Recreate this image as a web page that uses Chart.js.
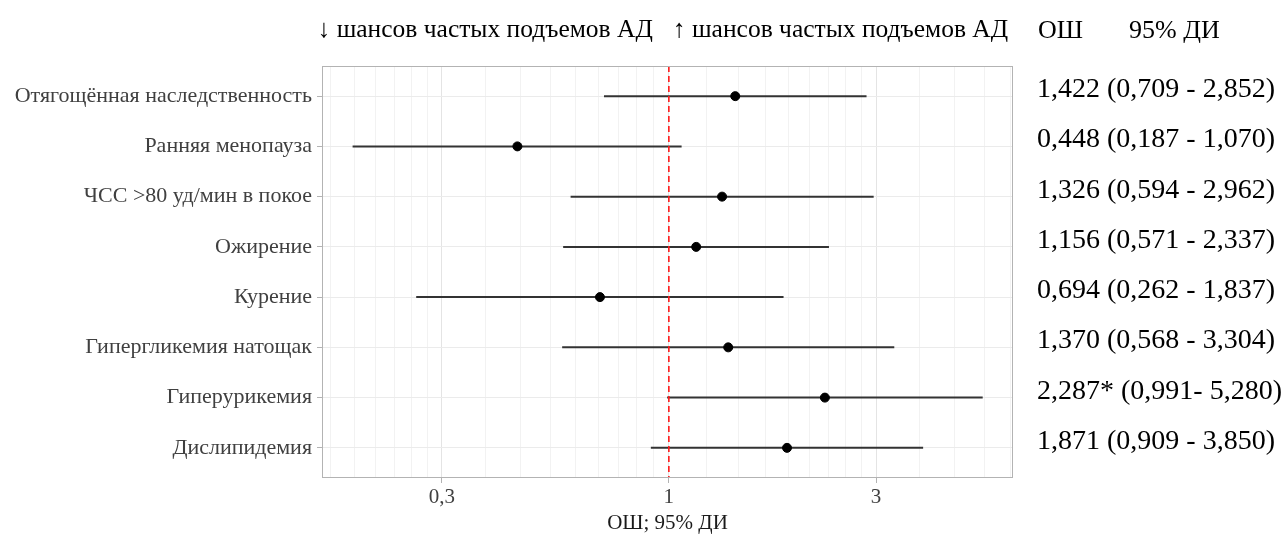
<!DOCTYPE html>
<html lang="ru">
<head>
<meta charset="utf-8">
<title>Факторы риска частых подъемов АД</title>
<script src="https://cdn.jsdelivr.net/npm/chart.js@4.4.1/dist/chart.umd.min.js"></script>
<style>
  html, body { margin: 0; padding: 0; background: #fff; }
  #wrap { position: relative; width: 1285px; height: 538px; }
</style>
</head>
<body>
<div id="wrap"><canvas id="forestChart"></canvas></div>
<script>
// risk factors, odds ratios and 95% CI bounds
const factors = [
  'Отягощённая наследственность',
  'Ранняя менопауза',
  'ЧСС >80 уд/мин в покое',
  'Ожирение',
  'Курение',
  'Гипергликемия натощак',
  'Гиперурикемия',
  'Дислипидемия'
];
const oddsRatio = [1.422, 0.448, 1.326, 1.156, 0.694, 1.370, 2.287, 1.871];
const ciLower   = [0.709, 0.187, 0.594, 0.571, 0.262, 0.568, 0.991, 0.909];
const ciUpper   = [2.852, 1.070, 2.962, 2.337, 1.837, 3.304, 5.280, 3.850];
const significant = [false, false, false, false, false, false, true, false];

// x axis: labelled breaks plus the break steps used for the minor grid
const majorTicks = [0.3, 1, 3];
const gridSteps = [0.1, 0.3, 1, 3, 10];
const xMin = 0.159, xMax = 6.2;

const serif = "'Liberation Serif', 'Times New Roman', serif";
const fmt = v => v.toFixed(3).replace('.', ',');

const rows = factors.map((_, i) => i + 1);

function buildXTicks() {
  const out = [];
  for (let s = 0; s < gridSteps.length - 1; s++) {
    const a = gridSteps[s], b = gridSteps[s + 1];
    for (let k = 0; k < 9; k++) {
      const v = a + (b - a) * k / 9;
      if (v >= xMin && v <= xMax) out.push({ value: v, major: majorTicks.includes(v) });
    }
  }
  return out;
}

// one line per CI, then the point estimates and the OR = 1 line
const ciSets = rows.map((r, i) => ({
  type: 'line',
  data: [{ x: ciLower[i], y: r }, { x: ciUpper[i], y: r }],
  borderColor: '#333333',
  borderWidth: 2,
  pointRadius: 0,
  order: 3
}));

const pointSet = {
  type: 'scatter',
  data: rows.map((r, i) => ({ x: oddsRatio[i], y: r })),
  backgroundColor: '#000',
  borderColor: '#000',
  pointRadius: 4.5,
  order: 1
};

const nullLine = {
  type: 'line',
  data: [{ x: 1, y: 0.4 }, { x: 1, y: 8.6 }],
  borderColor: '#ff1a1a',
  borderWidth: 1.6,
  borderDash: [6, 4],
  pointRadius: 0,
  order: 2
};

const annotate = {
  id: 'annotate',
  afterDraw(chart) {
    const { ctx, chartArea: a, scales: { x, y } } = chart;
    ctx.save();
    ctx.strokeStyle = '#b3b3b3';
    ctx.lineWidth = 1;
    ctx.strokeRect(a.left + 0.5, a.top + 0.5, a.width - 1, a.height - 1);

    const x1 = x.getPixelForValue(1);
    ctx.fillStyle = '#000';
    ctx.font = `25.5px ${serif}`;
    ctx.textBaseline = 'alphabetic';
    ctx.textAlign = 'right';
    ctx.fillText('↓ шансов частых подъемов АД', x1 - 16, 37);
    ctx.textAlign = 'left';
    ctx.fillText('↑ шансов частых подъемов АД', x1 + 4, 37);

    ctx.font = `26px ${serif}`;
    ctx.fillText('ОШ', a.right + 25, 38);
    ctx.fillText('95% ДИ', a.right + 116, 38);

    ctx.font = `28px ${serif}`;
    rows.forEach((r, i) => {
      const sep = significant[i] ? '- ' : ' - ';
      const txt = fmt(oddsRatio[i]) + (significant[i] ? '*' : '') +
        ' (' + fmt(ciLower[i]) + sep + fmt(ciUpper[i]) + ')';
      ctx.fillText(txt, a.right + 24, y.getPixelForValue(r) + 1);
    });
    ctx.restore();
  }
};

new Chart(document.getElementById('forestChart'), {
  data: { datasets: [...ciSets, nullLine, pointSet] },
  options: {
    responsive: true,
    maintainAspectRatio: false,
    animation: false,
    layout: { padding: { left: 0, right: 272, top: 66, bottom: 0 } },
    plugins: { legend: { display: false }, tooltip: { enabled: false } },
    scales: {
      x: {
        type: 'logarithmic',
        min: xMin,
        max: xMax,
        afterFit: s => { s.height = 60; },
        afterBuildTicks: s => { s.ticks = buildXTicks(); },
        border: { display: false },
        grid: {
          color: c => (c.tick && c.tick.major) ? '#e4e4e4' : '#f2f2f2',
          tickColor: c => (c.tick && c.tick.major) ? '#b3b3b3' : 'rgba(0,0,0,0)',
          tickLength: 5
        },
        ticks: {
          autoSkip: false,
          maxRotation: 0,
          padding: 2,
          color: '#404040',
          font: { family: serif, size: 21 },
          callback: function (v, i, t) {
            return t[i].major ? String(v).replace('.', ',') : '';
          }
        },
        title: {
          display: true,
          text: 'ОШ; 95% ДИ',
          color: '#1a1a1a',
          font: { family: serif, size: 21 },
          padding: { top: 2, bottom: 2 }
        }
      },
      y: {
        type: 'linear',
        reverse: true,
        min: 0.4,
        max: 8.6,
        afterFit: s => { s.width = 322; },
        afterBuildTicks: s => { s.ticks = rows.map(v => ({ value: v })); },
        border: { display: false },
        grid: { color: '#ebebeb', tickColor: '#b3b3b3', tickLength: 5 },
        ticks: {
          padding: 5,
          color: '#404040',
          font: { family: serif, size: 22 },
          callback: v => factors[v - 1] || ''
        }
      }
    }
  },
  plugins: [annotate]
});
</script>
</body>
</html>
